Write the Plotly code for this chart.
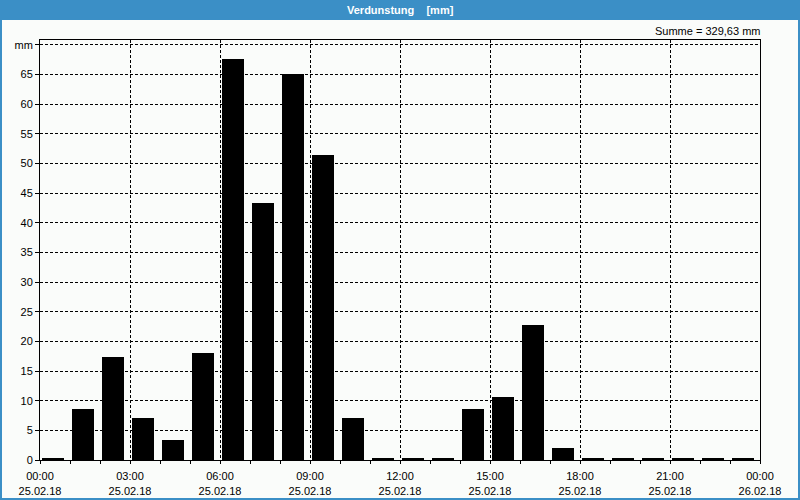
import plotly.graph_objects as go

hours = list(range(24))
values = [0.25, 8.6, 17.4, 7.1, 3.4, 18.0, 67.6, 43.3, 65.0, 51.4, 7.1, 0.25,
          0.25, 0.25, 8.6, 10.6, 22.7, 2.0, 0.25, 0.25, 0.25, 0.25, 0.25, 0.25]
tick_hours = [0, 3, 6, 9, 12, 15, 18, 21, 24]
tick_labels = ["00:00<br>25.02.18", "03:00<br>25.02.18", "06:00<br>25.02.18",
               "09:00<br>25.02.18", "12:00<br>25.02.18", "15:00<br>25.02.18",
               "18:00<br>25.02.18", "21:00<br>25.02.18", "00:00<br>26.02.18"]
y_ticks = [0, 5, 10, 15, 20, 25, 30, 35, 40, 45, 50, 55, 60, 65, 70]
y_labels = [str(v) for v in y_ticks[:-1]] + ["mm"]
title_text = "Verdunstung\u00a0\u00a0\u00a0\u00a0[mm]"
sum_text = "Summe = 329,63 mm"

BLUE = "#3b8fc6"
BG = "#fafcfa"
FONT = "Liberation Sans"

PW, PH = 720.0, 420.0  # plot area size in px

fig = go.Figure()
fig.add_trace(go.Bar(x=hours, y=values, width=0.72, offset=0.07,
                     marker=dict(color="#000000", line=dict(width=0))))

fig.update_layout(
    width=800, height=500,
    margin=dict(l=40, r=40, t=40, b=40),
    paper_bgcolor=BG, plot_bgcolor=BG,
    showlegend=False, bargap=0,
    font=dict(family=FONT, size=11, color="#000000"),
)
fig.update_xaxes(
    range=[0, 24], tickvals=tick_hours, ticktext=tick_labels,
    showgrid=True, gridcolor="#000000", gridwidth=1, griddash="3px,2px",
    showline=True, linecolor="#000000", linewidth=1, mirror=True,
    ticks="outside", ticklen=3, tickcolor="#000000",
    minor=dict(dtick=1, ticks="outside", ticklen=3, tickcolor="#000000", showgrid=False),
    zeroline=False, tickfont=dict(family=FONT, size=11),
    ticklabelstandoff=3, automargin=False,
)
fig.update_yaxes(
    range=[0, 70.8], tickvals=y_ticks, ticktext=y_labels,
    showgrid=True, gridcolor="#000000", gridwidth=1, griddash="3px,2px",
    showline=True, linecolor="#000000", linewidth=1, mirror=True,
    ticks="outside", ticklen=4, tickcolor="#000000",
    zeroline=False, tickfont=dict(family=FONT, size=11), automargin=False,
)

# title bar and window border
fig.add_shape(type="rect", xref="paper", yref="paper",
              x0=-40 / PW, x1=1 + 40 / PW, y0=1 + 20 / PH, y1=1 + 40 / PH,
              fillcolor=BLUE, line=dict(width=0))
fig.add_shape(type="rect", xref="paper", yref="paper",
              x0=-39 / PW, x1=1 + 39 / PW, y0=-39 / PH, y1=1 + 40 / PH,
              fillcolor="rgba(0,0,0,0)", line=dict(color=BLUE, width=2))
fig.add_annotation(text="<b>" + title_text + "</b>", xref="paper", yref="paper",
                   x=0.5, y=1 + 30 / PH, yanchor="middle", xanchor="center",
                   showarrow=False, font=dict(family=FONT, size=11, color="#ffffff"))
fig.add_annotation(text=sum_text, xref="paper", yref="paper",
                   x=1.0, y=1.0, yanchor="bottom", xanchor="right", yshift=1, xshift=2,
                   showarrow=False, font=dict(family=FONT, size=11, color="#000000"))

fig.write_html("out.html")
